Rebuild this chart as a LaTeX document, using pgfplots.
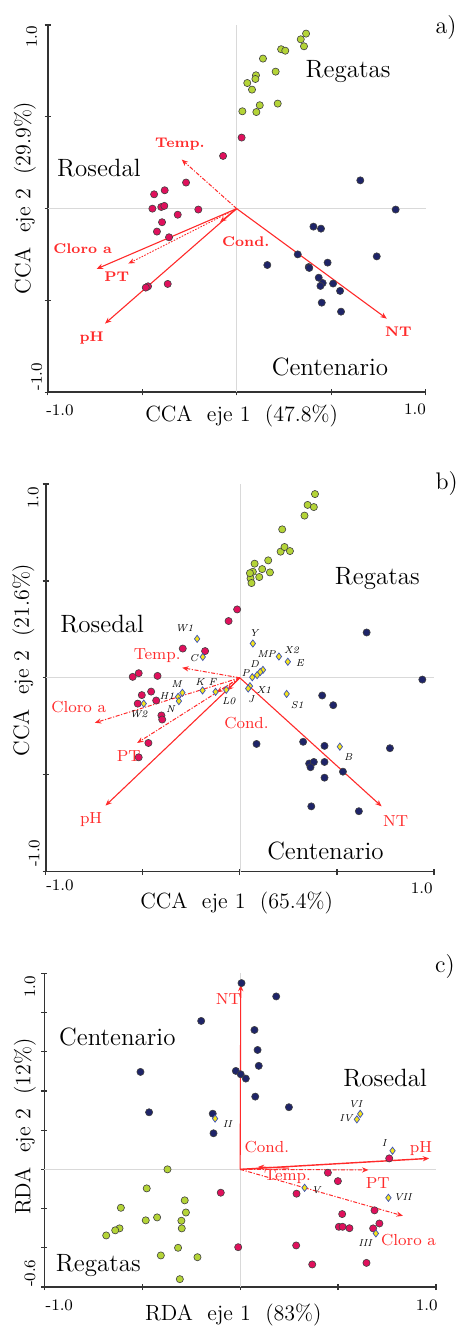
\documentclass[border=0pt]{standalone}
\usepackage{pgfplots}
\pgfplotsset{compat=1.18}
\usetikzlibrary{arrows.meta}
\definecolor{grn}{HTML}{B4D437}
\definecolor{pnk}{HTML}{E0105C}
\definecolor{nvy}{HTML}{1E2468}
\definecolor{ylw}{HTML}{F4E41C}
\definecolor{dia}{HTML}{3A4FB8}
\definecolor{rd}{HTML}{FF2A2A}
\pgfplotsset{
  ordin/.style={scale only axis, axis x line=bottom, axis y line=left,
    axis line style={-, line width=0.8pt, black!80},
    xmin=-1, xmax=1, xtick={-1,-0.5,0,0.5,1},
    xticklabels={}, yticklabels={},
    tick style={black!80, line width=0.6pt}, major tick length=3pt, tick align=center,
    clip=false},
  grnpt/.style={only marks, mark=*, mark size=1.8pt, mark options={fill=grn, draw=black!75, line width=0.3pt}},
  pnkpt/.style={only marks, mark=*, mark size=1.8pt, mark options={fill=pnk, draw=black!75, line width=0.3pt}},
  nvypt/.style={only marks, mark=*, mark size=1.8pt, mark options={fill=nvy, draw=black!75, line width=0.3pt}},
  diapt/.style={only marks, mark=diamond*, mark size=1.8pt, mark options={fill=ylw, draw=dia, line width=0.35pt}},
  zeroln/.style={black!15, line width=0.35pt, no markers},
  vec/.style={rd, line width=0.55pt, no markers, -{Stealth[length=3.2pt,width=2.6pt]}},
  vecdot/.style={vec, line width=0.45pt, dash pattern=on 0.8pt off 0.7pt},
  vecdd/.style={vec, line width=0.5pt, dash pattern=on 2pt off 0.8pt on 0.6pt off 0.8pt},
}
\newcommand{\grp}{\fontsize{12.5}{14}\selectfont}
\newcommand{\axl}{\fontsize{11}{13}\selectfont}
\newcommand{\tkl}{\fontsize{8}{9}\selectfont}
\newcommand{\rla}{\fontsize{7}{8}\selectfont\bfseries\color{rd}}
\newcommand{\rlb}{\fontsize{8}{9}\selectfont\color{rd}}
\newcommand{\spl}{\fontsize{5}{6}\selectfont\itshape}
\begin{document}
\begin{tikzpicture}
\path[use as bounding box] (0pt,0pt) rectangle (229.5pt,663.5pt);

% ================= Panel a =================
\begin{axis}[ordin, at={(23.85pt,467.35pt)}, anchor=south west, width=189pt, height=183.65pt,
  ymin=-1, ymax=1, ytick={-1,-0.5,0,0.5,1}]
\addplot[zeroln] coordinates {(-1,0) (1,0)};
\addplot[zeroln] coordinates {(0,-1) (0,1)};
\addplot[grnpt] coordinates {
(0.367,0.953) (0.339,0.922) (0.356,0.884) (0.235,0.868) (0.257,0.860) (0.139,0.817)
(0.206,0.746) (0.102,0.726) (0.099,0.706) (0.056,0.684) (0.081,0.648) (0.122,0.563)
(0.104,0.526) (0.030,0.530) (0.217,0.572)};
\addplot[pnkpt] coordinates {
(0.026,0.387) (-0.072,0.287) (-0.268,0.142) (-0.437,0.078) (-0.381,0.100) (-0.446,0.000)
(-0.399,0.009) (-0.383,0.015) (-0.312,-0.033) (-0.203,-0.005) (-0.395,-0.074) (-0.422,-0.125)
(-0.358,-0.156) (-0.469,-0.423) (-0.481,-0.430) (-0.365,-0.410)};
\addplot[nvypt] coordinates {
(0.654,0.154) (0.841,-0.005) (0.406,-0.098) (0.446,-0.109) (0.323,-0.249) (0.162,-0.307)
(0.381,-0.318) (0.384,-0.323) (0.481,-0.294) (0.741,-0.260) (0.434,-0.376) (0.455,-0.405)
(0.510,-0.408) (0.443,-0.421) (0.547,-0.448) (0.450,-0.512) (0.552,-0.561)};
\addplot[vecdd] coordinates {(0,0) (-0.291,0.267)};
\addplot[vec] coordinates {(0,0) (-0.741,-0.328)};
\addplot[vecdot] coordinates {(0,0) (-0.573,-0.299)};
\addplot[vec] coordinates {(0,0) (-0.697,-0.626)};
\addplot[vec] coordinates {(0,0) (-0.088,-0.073)};
\addplot[vec] coordinates {(0,0) (0.794,-0.599)};
\node[font=\rla] at (axis cs:-0.300,0.350) {Temp.};
\node[font=\rla] at (axis cs:-0.815,-0.220) {Cloro a};
\node[font=\rla] at (axis cs:-0.635,-0.368) {PT};
\node[font=\rla] at (axis cs:-0.767,-0.702) {pH};
\node[font=\rla] at (axis cs:0.048,-0.180) {Cond.};
\node[font=\rla] at (axis cs:0.855,-0.671) {NT};
\node[font=\grp] at (axis cs:0.589,0.744) {Regatas};
\node[font=\grp] at (axis cs:-0.729,0.219) {Rosedal};
\node[font=\grp] at (axis cs:0.494,-0.862) {Centenario};
\end{axis}
\node[font=\axl, rotate=90] at (12.5pt,564.5pt) {CCA\ \ eje 2\ \ (29.9\%)};
\node[font=\axl] at (120.85pt,455.65pt) {CCA\ \ eje 1\ \ (47.8\%)};
\node[font=\tkl, rotate=90] at (15.85pt,645.15pt) {1.0};
\node[font=\tkl, rotate=90] at (18.35pt,475.15pt) {-1.0};
\node[font=\tkl] at (30pt,458.5pt) {-1.0};
\node[font=\tkl] at (207.5pt,459pt) {1.0};
\node[font=\fontsize{12}{14}\selectfont] at (223pt,649.5pt) {a)};

% ================= Panel b =================
\begin{axis}[ordin, at={(22.85pt,227.65pt)}, anchor=south west, width=194.15pt, height=193.85pt,
  ymin=-1, ymax=1, ytick={-1,-0.5,0,0.5,1}]
\addplot[zeroln] coordinates {(-1,0) (1,0)};
\addplot[zeroln] coordinates {(0,-1) (0,1)};
\addplot[grnpt] coordinates {
(0.387,0.948) (0.349,0.892) (0.381,0.881) (0.333,0.837) (0.218,0.766) (0.210,0.651)
(0.230,0.675) (0.258,0.654) (0.076,0.589) (0.115,0.561) (0.146,0.606) (0.155,0.544)
(0.067,0.547) (0.100,0.520) (0.055,0.513) (0.060,0.489) (0.052,0.540)};
\addplot[pnkpt] coordinates {
(-0.014,0.353) (-0.058,0.293) (-0.294,0.151) (-0.179,0.138) (-0.521,0.024) (-0.552,0.005)
(-0.424,0.010) (-0.505,-0.089) (-0.457,-0.071) (-0.431,-0.117) (-0.526,-0.133) (-0.404,-0.194)
(-0.400,-0.215) (-0.471,-0.336) (-0.521,-0.410)};
\addplot[nvypt] coordinates {
(0.653,0.234) (0.940,-0.009) (0.424,-0.091) (0.481,-0.141) (0.086,-0.341) (0.326,-0.330)
(0.436,-0.351) (0.773,-0.363) (0.357,-0.442) (0.381,-0.434) (0.436,-0.434) (0.364,-0.461)
(0.531,-0.484) (0.436,-0.515) (0.368,-0.663) (0.613,-0.688)};
\addplot[diapt] coordinates {
(-0.220,0.201) (-0.191,0.108) (0.067,0.177) (0.201,0.110) (0.247,0.083) (0.119,0.041)
(0.105,0.030) (0.089,0.014) (0.064,0.003) (0.052,-0.043) (0.043,-0.055) (0.241,-0.083)
(0.515,-0.355) (-0.192,-0.065) (-0.125,-0.072) (-0.070,-0.062) (-0.296,-0.077)
(-0.318,-0.098) (-0.314,-0.120) (-0.495,-0.133)};
\addplot[vecdd] coordinates {(0,0) (-0.297,0.052)};
\addplot[vecdd] coordinates {(0,0) (-0.747,-0.232)};
\addplot[vecdd] coordinates {(0,0) (-0.529,-0.336)};
\addplot[vec] coordinates {(0,0) (-0.692,-0.659)};
\addplot[vec] coordinates {(0,0) (-0.065,-0.065)};
\addplot[vecdd] coordinates {(0,0) (-0.120,-0.075)};
\addplot[vec] coordinates {(0,0) (0.730,-0.663)};
\node[font=\rlb] at (axis cs:-0.426,0.112) {Temp.};
\node[font=\rlb] at (axis cs:-0.830,-0.151) {Cloro a};
\node[font=\rlb] at (axis cs:-0.572,-0.404) {PT};
\node[font=\rlb] at (axis cs:-0.766,-0.731) {pH};
\node[font=\rlb] at (axis cs:0.034,-0.232) {Cond.};
\node[font=\rlb] at (axis cs:0.802,-0.737) {NT};
\node[font=\spl] at (axis cs:-0.285,0.258) {W1};
\node[font=\spl] at (axis cs:-0.237,0.103) {C};
\node[font=\spl] at (axis cs:0.072,0.232) {Y};
\node[font=\spl] at (axis cs:0.137,0.124) {MP};
\node[font=\spl] at (axis cs:0.266,0.143) {X2};
\node[font=\spl] at (axis cs:0.309,0.077) {E};
\node[font=\spl] at (axis cs:0.076,0.069) {D};
\node[font=\spl] at (axis cs:0.029,0.026) {P};
\node[font=\spl] at (axis cs:0.124,-0.064) {X1};
\node[font=\spl] at (axis cs:0.058,-0.112) {J};
\node[font=\spl] at (axis cs:0.296,-0.143) {S1};
\node[font=\spl] at (axis cs:0.558,-0.410) {B};
\node[font=\spl] at (axis cs:-0.206,-0.021) {K};
\node[font=\spl] at (axis cs:-0.141,-0.021) {F};
\node[font=\spl] at (axis cs:-0.057,-0.120) {L0};
\node[font=\spl] at (axis cs:-0.326,-0.034) {M};
\node[font=\spl] at (axis cs:-0.375,-0.096) {H1};
\node[font=\spl] at (axis cs:-0.357,-0.160) {N};
\node[font=\spl] at (axis cs:-0.521,-0.186) {W2};
\node[font=\grp] at (axis cs:0.708,0.512) {Regatas};
\node[font=\grp] at (axis cs:-0.709,0.275) {Rosedal};
\node[font=\grp] at (axis cs:0.441,-0.894) {Centenario};
\end{axis}
\node[font=\axl, rotate=90] at (11.65pt,333.5pt) {CCA\ \ eje 2\ \ (21.6\%)};
\node[font=\axl] at (118.35pt,211.85pt) {CCA\ \ eje 1\ \ (65.4\%)};
\node[font=\tkl, rotate=90] at (16.65pt,414.5pt) {1.0};
\node[font=\tkl, rotate=90] at (17.15pt,236.85pt) {-1.0};
\node[font=\tkl] at (30pt,221pt) {-1.0};
\node[font=\tkl] at (210.85pt,219.35pt) {1.0};
\node[font=\fontsize{12}{14}\selectfont] at (223.35pt,421.85pt) {b)};

% ================= Panel c =================
\begin{axis}[ordin, at={(22.15pt,20pt)}, anchor=south west, width=195.85pt, height=156.85pt,
  ymin=-0.6, ymax=1, ytick={-0.6,-0.4,-0.2,0,0.2,0.4,0.6,0.8,1.0}]
\addplot[zeroln] coordinates {(-1,0) (1,0)};
\addplot[zeroln] coordinates {(0,-0.6) (0,1)};
\addplot[nvypt] coordinates {
(0.007,0.950) (0.184,0.882) (-0.199,0.757) (0.073,0.711) (0.089,0.609) (0.095,0.528)
(-0.509,0.497) (-0.022,0.502) (0.003,0.485) (0.029,0.463) (0.077,0.371) (0.249,0.317)
(-0.465,0.291) (-0.140,0.284) (-0.136,0.184)};
\addplot[grnpt] coordinates {
(-0.371,0.000) (-0.477,-0.097) (-0.609,-0.196) (-0.283,-0.158) (-0.277,-0.220) (-0.424,-0.245)
(-0.482,-0.260) (-0.300,-0.262) (-0.298,-0.301) (-0.616,-0.301) (-0.638,-0.311) (-0.684,-0.337)
(-0.317,-0.400) (-0.405,-0.439) (-0.218,-0.448) (-0.308,-0.560)};
\addplot[pnkpt] coordinates {
(-0.099,-0.119) (0.448,-0.017) (0.499,-0.060) (0.288,-0.124) (0.761,0.056) (0.686,-0.209)
(0.521,-0.228) (0.504,-0.293) (0.523,-0.293) (0.558,-0.300) (0.679,-0.301) (0.711,-0.276)
(-0.010,-0.397) (0.286,-0.388) (0.368,-0.485) (0.645,-0.477)};
\addplot[diapt] coordinates {
(-0.128,0.259) (0.613,0.283) (0.596,0.255) (0.778,0.095) (0.329,-0.094) (0.757,-0.145) (0.693,-0.327)};
\addplot[vec] coordinates {(0,0) (0.003,0.941)};
\addplot[vec, line width=0.7pt] coordinates {(0,0) (0.965,0.056)};
\addplot[vecdd] coordinates {(0,0) (0.655,-0.003)};
\addplot[vecdd] coordinates {(0,0) (0.831,-0.237)};
\addplot[vec] coordinates {(0.25,0.006) (0.09,0.012)};
\node[font=\rlb] at (axis cs:-0.060,0.870) {NT};
\node[font=\rlb] at (axis cs:0.923,0.107) {pH};
\node[font=\rlb] at (axis cs:0.703,-0.068) {PT};
\node[font=\rlb] at (axis cs:0.860,-0.361) {Cloro a};
\node[font=\rlb] at (axis cs:0.242,-0.037) {Temp.};
\node[font=\rlb] at (axis cs:0.136,0.116) {Cond.};
\node[font=\spl] at (axis cs:-0.065,0.231) {II};
\node[font=\spl] at (axis cs:0.589,0.334) {VI};
\node[font=\spl] at (axis cs:0.540,0.259) {IV};
\node[font=\spl] at (axis cs:0.735,0.133) {I};
\node[font=\spl] at (axis cs:0.388,-0.106) {V};
\node[font=\spl] at (axis cs:0.831,-0.140) {VII};
\node[font=\spl] at (axis cs:0.638,-0.374) {III};
\node[font=\grp] at (axis cs:-0.627,0.677) {Centenario};
\node[font=\grp] at (axis cs:0.740,0.465) {Rosedal};
\node[font=\grp] at (axis cs:-0.724,-0.489) {Regatas};
\end{axis}
\node[font=\axl, rotate=90] at (12.5pt,100.15pt) {RDA\ \ eje 2\ \ (12\%)};
\node[font=\axl] at (116.65pt,6pt) {RDA\ \ eje 1\ \ (83\%)};
\node[font=\tkl, rotate=90] at (15pt,170.15pt) {1.0};
\node[font=\tkl, rotate=90] at (15pt,26.85pt) {-0.6};
\node[font=\tkl] at (29.65pt,11pt) {-1.0};
\node[font=\tkl] at (213.35pt,11pt) {1.0};
\node[font=\fontsize{12}{14}\selectfont] at (222.5pt,180.15pt) {c)};
\end{tikzpicture}
\end{document}
